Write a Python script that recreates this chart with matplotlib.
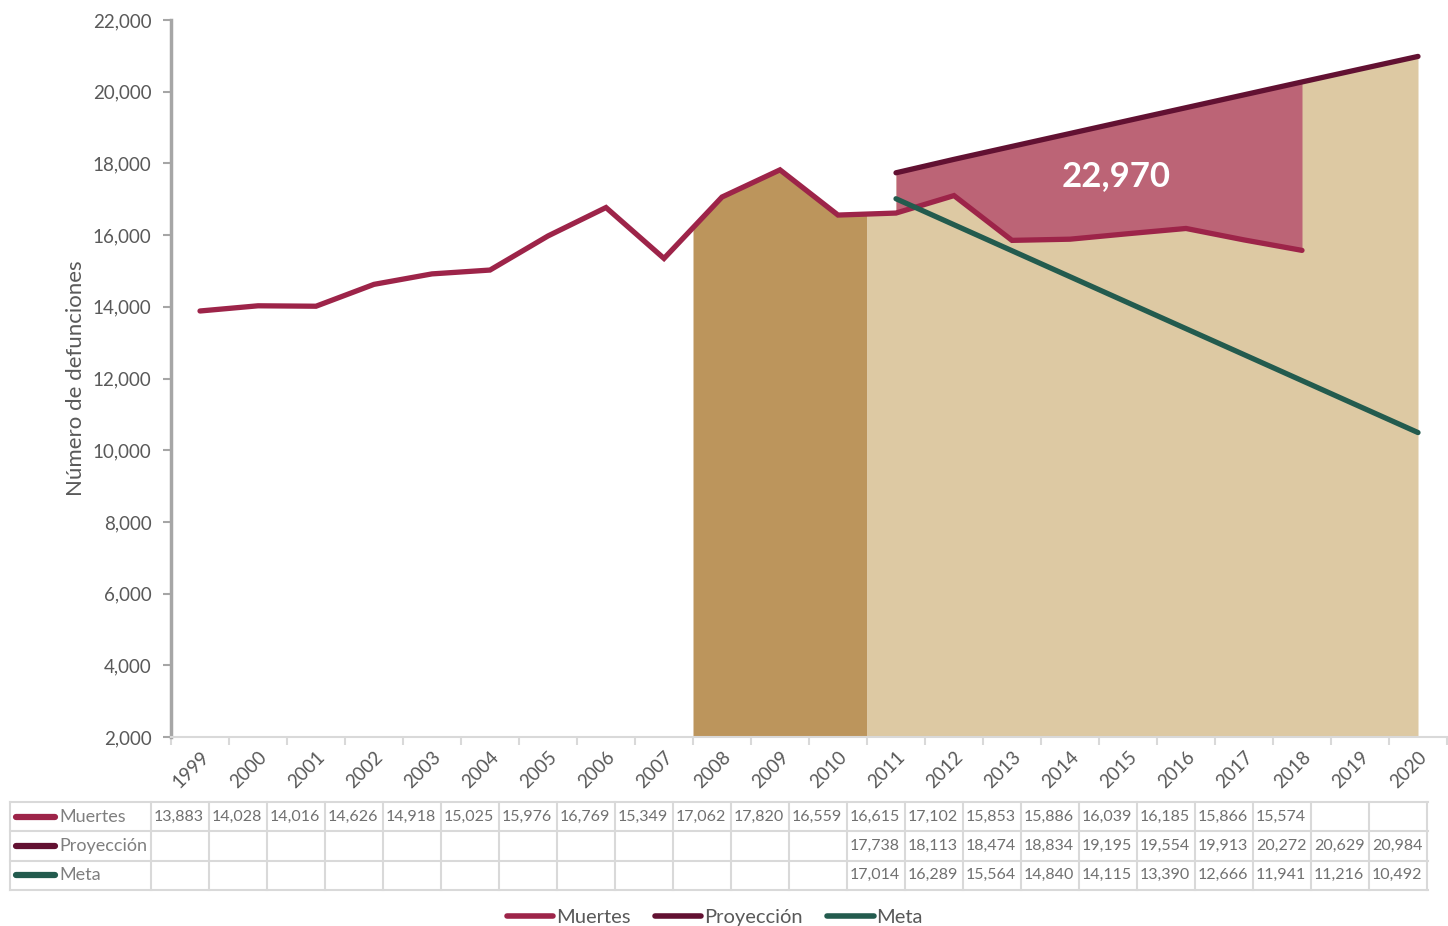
import numpy as np
import matplotlib.pyplot as plt
from matplotlib.lines import Line2D

plt.rcParams['font.family'] = ['Lato', 'DejaVu Sans']

years = [str(y) for y in range(1999, 2021)]
muertes = [13883, 14028, 14016, 14626, 14918, 15025, 15976, 16769, 15349, 17062,
           17820, 16559, 16615, 17102, 15853, 15886, 16039, 16185, 15866, 15574]
proyeccion = [17738, 18113, 18474, 18834, 19195, 19554, 19913, 20272, 20629, 20984]
meta = [17014, 16289, 15564, 14840, 14115, 13390, 12666, 11941, 11216, 10492]
exceso_label = '22,970'

c_muertes = '#9D2449'
c_proy = '#621132'
c_meta = '#235B4E'
c_dark = '#BC955C'
c_light = '#DDC9A3'
c_pink = '#BC6476'
gray = '#595959'

W, H = 1448, 926
fig = plt.figure(figsize=(W / 100, H / 100), dpi=100)
ax = fig.add_axes([171 / W, (H - 737) / H, 1276 / W, 717 / H])

x_m = np.arange(len(muertes))
x_p = np.arange(len(proyeccion)) + 12

# shaded areas
xd = np.array([8.5, 9, 10, 11, 11.5])
ax.fill_between(xd, 2000, np.interp(xd, x_m, muertes), color=c_dark, lw=0, zorder=1)
xl = np.concatenate([[11.5, 12], x_p])
yl = np.concatenate([[np.interp(11.5, x_m, muertes), muertes[12]], proyeccion])
ax.fill_between(xl, 2000, yl, color=c_light, lw=0, zorder=1)
xr = np.arange(12, 20)
ax.fill_between(xr, np.array(muertes[12:20]), np.array(proyeccion[:8]),
                color=c_pink, lw=0, zorder=2)

kw = dict(lw=3.8, solid_capstyle='round', solid_joinstyle='miter', zorder=3)
ax.plot(x_m, muertes, color=c_muertes, **kw)
ax.plot(x_p, proyeccion, color=c_proy, **kw)
ax.plot(x_p, meta, color=c_meta, **kw)

ax.text(15.8, 17650, exceso_label, color='white', fontsize=25, fontweight='bold',
        ha='center', va='center', zorder=4)

ax.set_xlim(-0.5, 21.5)
ax.set_ylim(2000, 22000)
ax.set_yticks(range(2000, 22001, 2000))
ax.set_yticklabels([f'{v:,}' for v in range(2000, 22001, 2000)])
ax.set_xticks(np.arange(len(years)))
ax.set_xticklabels(years, rotation=45, ha='right', rotation_mode='anchor')
ax.set_xticks(np.arange(-0.5, 22, 1), minor=True)
ax.tick_params(axis='x', which='major', length=0, pad=8, labelsize=13.5, labelcolor=gray)
ax.tick_params(axis='x', which='minor', length=6, color='#D9D9D9', width=1.5)
ax.tick_params(axis='y', length=6, color='#A6A6A6', width=1.5, labelsize=13.5,
               labelcolor=gray, pad=8)
for s in ['top', 'right']:
    ax.spines[s].set_visible(False)
ax.spines['left'].set_color('#A6A6A6')
ax.spines['left'].set_linewidth(2.5)
ax.spines['bottom'].set_color('#D9D9D9')
ax.spines['bottom'].set_linewidth(1.5)
ax.set_ylabel('Número de defunciones', fontsize=16, color=gray, labelpad=5)

# data table
tx0, tx1, ty0, ty1 = 10, 1428, 802, 890
ta = fig.add_axes([tx0 / W, (H - ty1) / H, (tx1 - tx0) / W, (ty1 - ty0) / H])
ta.set_xlim(tx0, tx1)
ta.set_ylim(ty1, ty0)
ta.axis('off')
grid = '#D9D9D9'
rows = [('Muertes', muertes, 0, c_muertes), ('Proyección', proyeccion, 12, c_proy),
        ('Meta', meta, 12, c_meta)]
rh = (ty1 - ty0) / 3
for r in range(4):
    ta.plot([tx0, tx1], [ty0 + r * rh] * 2, color=grid, lw=1.5, clip_on=False)
cols = [tx0] + [151 + 58 * i for i in range(23)]
for cx in cols:
    ta.plot([cx, cx], [ty0, ty1], color=grid, lw=1.5, clip_on=False)
for r, (name, vals, start, col) in enumerate(rows):
    yc = ty0 + (r + 0.5) * rh
    ta.plot([16, 55], [yc, yc], color=col, lw=4.5, solid_capstyle='round')
    ta.text(59, yc, name, va='center', ha='left', fontsize=13, color='#7F7F7F')
    for i, v in enumerate(vals):
        ta.text(151 + 58 * (start + i) + 3, yc, f'{v:,}', va='center', ha='left',
                fontsize=11.5, color='#707070')

handles = [Line2D([], [], color=c, lw=4, solid_capstyle='round')
           for c in (c_muertes, c_proy, c_meta)]
fig.legend(handles, ['Muertes', 'Proyección', 'Meta'], loc='center',
           bbox_to_anchor=(715 / W, (H - 917) / H), ncol=3, frameon=False,
           fontsize=14.5, handlelength=2.3, handletextpad=0.15, columnspacing=1.2,
           labelcolor=gray)

fig.savefig('out.png', dpi=100)
